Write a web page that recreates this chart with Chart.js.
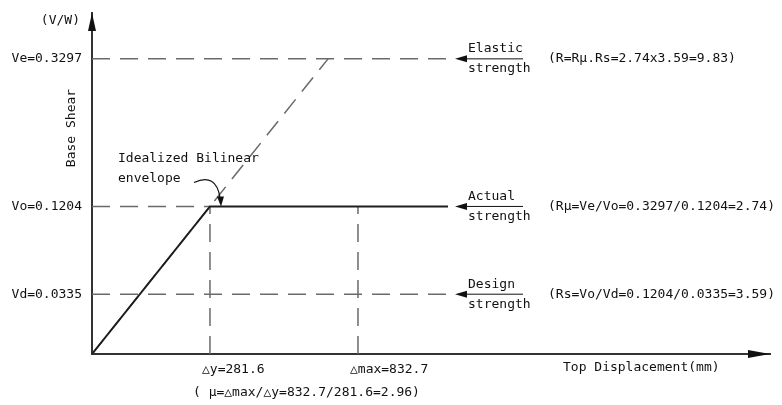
<!DOCTYPE html>
<html>
<head>
<meta charset="utf-8">
<script src="https://cdn.jsdelivr.net/npm/chart.js@4.4.1/dist/chart.umd.min.js"></script>
<style>
  html, body { margin: 0; padding: 0; background: #fff; }
  canvas { display: block; }
</style>
</head>
<body>
<canvas id="c" width="782" height="405"></canvas>
<script>
// Pushover capacity curve and response-modification factors
const yieldDisp = 281.6;   // Δy (mm)
const maxDisp = 832.7;     // Δmax (mm)
const strengthNames = ['Vd', 'Vo', 'Ve'];
const strengthValues = [0.0335, 0.1204, 0.3297];
const strengthCaptions = [['Design', 'strength'], ['Actual', 'strength'], ['Elastic', 'strength']];
const ratioNotes = [
  '(Rs=Vo/Vd=0.1204/0.0335=3.59)',
  '(Rμ=Ve/Vo=0.3297/0.1204=2.74)',
  '(R=Rμ.Rs=2.74x3.59=9.83)'
];
const dispTickValues = [281.6, 832.7];
const dispTickLabels = ['△y=281.6', '△max=832.7'];
const ductilityNote = '( μ=△max/△y=832.7/281.6=2.96)';
// idealized bilinear envelope
const bilinearX = [0, 281.6, 1150];
const bilinearY = [0, 0.1204, 0.1204];
// elastic response line up to Ve
const elasticX = [0, 771.1];
const elasticY = [0, 0.3297];
const guideEndDisp = 1150;

// The diagram is not to scale: each axis is piecewise linear between key values.
const axisBreaks = {
  x: { values: [0, 281.6, 771.1, 832.7, 1150, 2300], stops: [0, 0.1740, 0.3481, 0.3923, 0.5251, 1] },
  y: { values: [0, 0.0335, 0.1204, 0.3297, 0.4], stops: [0, 0.1754, 0.4327, 0.8655, 1] }
};
function lerpTable(from, to, v) {
  const n = from.length;
  if (v <= from[0]) return to[0] + (v - from[0]) * (to[1] - to[0]) / (from[1] - from[0]);
  for (let i = 1; i < n; i++) {
    if (v <= from[i]) {
      const t = (v - from[i - 1]) / (from[i] - from[i - 1]);
      return to[i - 1] + t * (to[i] - to[i - 1]);
    }
  }
  return to[n - 1] + (v - from[n - 1]) * (to[n - 1] - to[n - 2]) / (from[n - 1] - from[n - 2]);
}
class BrokenScale extends Chart.LinearScale {
  getPixelForValue(value) {
    if (value === null || value === undefined || isNaN(value)) return NaN;
    const b = axisBreaks[this.id];
    return this.getPixelForDecimal(lerpTable(b.values, b.stops, value));
  }
  getValueForPixel(pixel) {
    const b = axisBreaks[this.id];
    return lerpTable(b.stops, b.values, this.getDecimalForPixel(pixel));
  }
}
BrokenScale.id = 'broken';
BrokenScale.defaults = Chart.LinearScale.defaults;
Chart.register(BrokenScale);

const FONT = '"DejaVu Sans Mono", monospace';
const INK = '#111';
const SOLID = '#1e1e1e';
const DASHED = '#6a6a6a';
const DASH = [18, 10];

function points(xs, ys) { return xs.map((x, i) => ({ x, y: ys[i] })); }
function dashedLine(data) {
  return { data, borderColor: DASHED, borderWidth: 1.5, borderDash: DASH, pointRadius: 0 };
}

const datasets = [
  { data: points(bilinearX, bilinearY), borderColor: SOLID, borderWidth: 2, pointRadius: 0 },
  dashedLine(points(elasticX, elasticY)),
  ...strengthValues.map((v, i) => dashedLine([
    { x: 0, y: v },
    { x: strengthNames[i] === 'Vo' ? yieldDisp : guideEndDisp, y: v }
  ])),
  ...dispTickValues.map(d => dashedLine([{ x: d, y: 0 }, { x: d, y: strengthValues[1] }]))
];

const annotations = {
  id: 'annotations',
  afterDraw(chart) {
    const ctx = chart.ctx;
    const xs = chart.scales.x, ys = chart.scales.y;
    const a = chart.chartArea;
    ctx.save();
    ctx.fillStyle = INK;
    ctx.strokeStyle = INK;

    // axis arrowheads
    ctx.beginPath();
    ctx.moveTo(a.left, a.top);
    ctx.lineTo(a.left - 4, a.top + 18);
    ctx.lineTo(a.left + 4, a.top + 18);
    ctx.closePath();
    ctx.fill();
    ctx.beginPath();
    ctx.moveTo(a.right, a.bottom);
    ctx.lineTo(a.right - 22, a.bottom - 4);
    ctx.lineTo(a.right - 22, a.bottom + 4);
    ctx.closePath();
    ctx.fill();

    ctx.font = '13px ' + FONT;
    ctx.textBaseline = 'middle';

    // axis titles
    ctx.textAlign = 'right';
    ctx.fillText('(V/W)', a.left - 12, a.top + 8);
    ctx.save();
    ctx.translate(a.left - 20, 128);
    ctx.rotate(-Math.PI / 2);
    ctx.textAlign = 'center';
    ctx.fillText('Base Shear', 0, 0);
    ctx.restore();
    ctx.textAlign = 'left';
    ctx.fillText('Top Displacement(mm)', 563, a.bottom + 14);

    // displacement labels
    dispTickValues.forEach((d, i) => {
      ctx.fillText(dispTickLabels[i], xs.getPixelForValue(d) - 8, a.bottom + 16);
    });
    ctx.fillText(ductilityNote, xs.getPixelForValue(yieldDisp) - 17, a.bottom + 39);

    // strength level leaders and notes
    const x0 = xs.getPixelForValue(guideEndDisp);
    strengthValues.forEach((v, i) => {
      const y = ys.getPixelForValue(v);
      ctx.beginPath();
      ctx.moveTo(x0 + 7, y);
      ctx.lineTo(x0 + 19, y - 3.5);
      ctx.lineTo(x0 + 19, y + 3.5);
      ctx.closePath();
      ctx.fill();
      ctx.lineWidth = 1;
      ctx.beginPath();
      ctx.moveTo(x0 + 18, y);
      ctx.lineTo(x0 + 75, y);
      ctx.stroke();
      ctx.fillText(strengthCaptions[i][0], x0 + 20, y - 10);
      ctx.fillText(strengthCaptions[i][1], x0 + 20, y + 10);
      ctx.fillText(ratioNotes[i], x0 + 100, y);
    });

    // callout for the bilinear envelope
    const px = xs.getPixelForValue(yieldDisp);
    const py = ys.getPixelForValue(strengthValues[1]);
    ctx.fillText('Idealized Bilinear', px - 92, py - 48);
    ctx.fillText('envelope', px - 92, py - 28);
    ctx.lineWidth = 1.2;
    ctx.beginPath();
    ctx.moveTo(px - 16, py - 24);
    ctx.quadraticCurveTo(px + 6, py - 34, px + 10, py - 9);
    ctx.stroke();
    ctx.beginPath();
    ctx.moveTo(px + 11, py);
    ctx.lineTo(px + 7, py - 10);
    ctx.lineTo(px + 14, py - 10);
    ctx.closePath();
    ctx.fill();
    ctx.restore();
  }
};

new Chart(document.getElementById('c'), {
  type: 'line',
  data: { datasets },
  options: {
    responsive: false,
    animation: false,
    events: [],
    layout: { padding: { top: 13, right: 12, left: 0, bottom: 0 } },
    plugins: { legend: { display: false }, tooltip: { enabled: false } },
    elements: { line: { tension: 0 }, point: { radius: 0 } },
    scales: {
      x: {
        type: 'broken', min: 0, max: 2300,
        grid: { display: false, drawTicks: false },
        border: { display: true, color: '#333', width: 2 },
        ticks: { display: false },
        afterBuildTicks(s) { s.ticks = dispTickValues.map(v => ({ value: v })); },
        afterFit(s) { s.height = 51; s.paddingLeft = 0; s.paddingRight = 0; }
      },
      y: {
        type: 'broken', min: 0, max: 0.4,
        grid: { display: false, drawTicks: false },
        border: { display: true, color: '#333', width: 2 },
        afterBuildTicks(s) { s.ticks = strengthValues.map(v => ({ value: v })); },
        ticks: {
          autoSkip: false, padding: 10, color: INK,
          font: { family: FONT, size: 13 },
          callback: (v, i) => strengthNames[i] + '=' + strengthValues[i].toFixed(4)
        },
        afterFit(s) { s.width = 92; s.paddingTop = 0; s.paddingBottom = 0; }
      }
    }
  },
  plugins: [annotations]
});
</script>
</body>
</html>
